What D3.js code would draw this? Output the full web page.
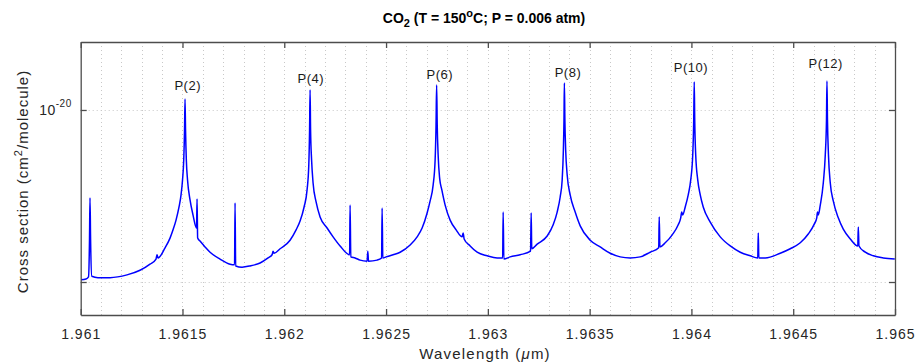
<!DOCTYPE html>
<html>
<head>
<meta charset="utf-8">
<script src="https://cdn.jsdelivr.net/npm/d3@7"></script>
<style>
  body { margin: 0; background: #fff; }
  svg { display: block; font-family: "Liberation Sans", Arial, sans-serif; }
</style>
</head>
<body>
<div id="chart"></div>
<script>
// wavelength (um) and absorption cross section (cm^2/molecule)
const wavelength = [
  1.9610015, 1.9610260, 1.9610383, 1.9610432, 1.9610457, 1.9610486, 1.9610545, 1.9610850,
  1.9611440, 1.9612275, 1.9612914, 1.9613405, 1.9613700, 1.9613749, 1.9613799, 1.9614143,
  1.9614388, 1.9614536, 1.9614683, 1.9614830, 1.9614929, 1.9615002, 1.9615061, 1.9615101,
  1.9615125, 1.9615150, 1.9615189, 1.9615248, 1.9615371, 1.9615518, 1.9615690, 1.9615715,
  1.9615745, 1.9615862, 1.9616108, 1.9616354, 1.9616845, 1.9617337, 1.9617558, 1.9617582,
  1.9617612, 1.9617926, 1.9618319, 1.9618811, 1.9619204, 1.9619401, 1.9619450, 1.9619499,
  1.9619794, 1.9620285, 1.9620580, 1.9620776, 1.9620973, 1.9621120, 1.9621204, 1.9621243,
  1.9621268, 1.9621292, 1.9621342, 1.9621415, 1.9621563, 1.9621759, 1.9622103, 1.9622398,
  1.9622742, 1.9623209, 1.9623233, 1.9623268, 1.9623479, 1.9623725, 1.9624069, 1.9624103,
  1.9624138, 1.9624560, 1.9624781, 1.9624806, 1.9624840, 1.9625002, 1.9625346, 1.9625690,
  1.9626182, 1.9626526, 1.9626771, 1.9627017, 1.9627165, 1.9627312, 1.9627410, 1.9627455,
  1.9627484, 1.9627513, 1.9627558, 1.9627631, 1.9627740, 1.9627902, 1.9628147, 1.9628442,
  1.9628737, 1.9628786, 1.9628835, 1.9629130, 1.9629474, 1.9629966, 1.9630457, 1.9630727,
  1.9630752, 1.9630786, 1.9631096, 1.9631587, 1.9632098, 1.9632128, 1.9632157, 1.9632423,
  1.9632914, 1.9633209, 1.9633405, 1.9633553, 1.9633651, 1.9633710, 1.9633740, 1.9633759,
  1.9633784, 1.9633823, 1.9633897, 1.9634044, 1.9634290, 1.9634536, 1.9635027, 1.9635518,
  1.9636010, 1.9636501, 1.9636993, 1.9637484, 1.9637975, 1.9638393, 1.9638418, 1.9638452,
  1.9638713, 1.9639057, 1.9639351, 1.9639474, 1.9639523, 1.9639572, 1.9639695, 1.9639843,
  1.9639966, 1.9640064, 1.9640113, 1.9640138, 1.9640162, 1.9640211, 1.9640310, 1.9640433,
  1.9640580, 1.9640924, 1.9641415, 1.9641907, 1.9642398, 1.9642889, 1.9643258, 1.9643283,
  1.9643312, 1.9643627, 1.9644364, 1.9644855, 1.9645346, 1.9645739, 1.9646034, 1.9646157,
  1.9646192, 1.9646231, 1.9646329, 1.9646477, 1.9646575, 1.9646634, 1.9646658, 1.9646683,
  1.9646732, 1.9646821, 1.9646968, 1.9647214, 1.9647459, 1.9647803, 1.9648172, 1.9648196,
  1.9648231, 1.9648541, 1.9648934, 1.9649425, 1.9649990
];
const crossSection = [
  1.03e-21, 1.04e-21, 1.07e-21, 1.75e-21, 3.08e-21, 1.75e-21, 1.08e-21, 1.06e-21,
  1.06e-21, 1.10e-21, 1.17e-21, 1.27e-21, 1.36e-21, 1.44e-21, 1.38e-21, 1.58e-21,
  1.80e-21, 2.01e-21, 2.29e-21, 2.73e-21, 3.21e-21, 3.92e-21, 5.12e-21, 7.65e-21,
  11.58e-21, 7.65e-21, 5.12e-21, 3.92e-21, 3.00e-21, 2.45e-21, 2.06e-21, 3.04e-21,
  1.80e-21, 1.73e-21, 1.60e-21, 1.49e-21, 1.36e-21, 1.27e-21, 1.26e-21, 2.88e-21,
  1.24e-21, 1.22e-21, 1.24e-21, 1.29e-21, 1.38e-21, 1.44e-21, 1.51e-21, 1.47e-21,
  1.56e-21, 1.75e-21, 2.01e-21, 2.26e-21, 2.73e-21, 3.43e-21, 4.79e-21, 7.65e-21,
  13.07e-21, 7.65e-21, 5.12e-21, 3.76e-21, 2.92e-21, 2.39e-21, 2.06e-21, 1.83e-21,
  1.62e-21, 1.44e-21, 2.80e-21, 1.40e-21, 1.38e-21, 1.34e-21, 1.32e-21, 1.51e-21,
  1.32e-21, 1.34e-21, 1.38e-21, 2.69e-21, 1.38e-21, 1.40e-21, 1.44e-21, 1.49e-21,
  1.64e-21, 1.83e-21, 2.06e-21, 2.52e-21, 2.96e-21, 3.66e-21, 5.12e-21, 8.18e-21,
  13.97e-21, 8.18e-21, 5.47e-21, 4.02e-21, 3.43e-21, 2.80e-21, 2.29e-21, 2.01e-21,
  1.83e-21, 1.93e-21, 1.78e-21, 1.62e-21, 1.49e-21, 1.42e-21, 1.38e-21, 1.38e-21,
  2.55e-21, 1.36e-21, 1.40e-21, 1.44e-21, 1.51e-21, 2.52e-21, 1.56e-21, 1.66e-21,
  1.85e-21, 2.15e-21, 2.55e-21, 3.12e-21, 3.92e-21, 5.85e-21, 8.75e-21, 14.35e-21,
  8.75e-21, 5.85e-21, 4.19e-21, 3.21e-21, 2.55e-21, 2.12e-21, 1.75e-21, 1.60e-21,
  1.47e-21, 1.40e-21, 1.38e-21, 1.40e-21, 1.49e-21, 1.58e-21, 2.39e-21, 1.60e-21,
  1.69e-21, 1.88e-21, 2.15e-21, 2.36e-21, 2.55e-21, 2.45e-21, 2.73e-21, 3.21e-21,
  3.92e-21, 5.47e-21, 8.75e-21, 14.55e-21, 8.75e-21, 5.47e-21, 3.92e-21, 3.21e-21,
  2.73e-21, 2.23e-21, 1.83e-21, 1.62e-21, 1.49e-21, 1.42e-21, 1.38e-21, 1.93e-21,
  1.38e-21, 1.38e-21, 1.47e-21, 1.56e-21, 1.69e-21, 1.90e-21, 2.17e-21, 2.36e-21,
  2.55e-21, 2.45e-21, 2.80e-21, 3.76e-21, 5.47e-21, 8.75e-21, 14.74e-21, 8.75e-21,
  5.47e-21, 3.76e-21, 2.96e-21, 2.36e-21, 2.03e-21, 1.78e-21, 1.62e-21, 2.09e-21,
  1.62e-21, 1.49e-21, 1.42e-21, 1.38e-21, 1.36e-21
];

// line annotations
const peakLabels = ['P(2)', 'P(4)', 'P(6)', 'P(8)', 'P(10)', 'P(12)'];
const peakLabelX = [1.9615258, 1.9621302, 1.9627641, 1.9633936, 1.9639975, 1.9646599];
const peakLabelY = [13.9e-21, 15.14e-21, 16.09e-21, 16.52e-21, 17.55e-21, 18.68e-21];

// axes
const xDomain = [1.961, 1.965];
const yDomain = [6.43e-22, 2.484e-20];
const xTicks = [1.961, 1.9615, 1.962, 1.9625, 1.963, 1.9635, 1.964, 1.9645, 1.965];
const xTickLabels = ['1.961', '1.9615', '1.962', '1.9625', '1.963', '1.9635', '1.964', '1.9645', '1.965'];
const yTicks = [1e-21, 1e-20];
const yTickLabels = ['', '-20'];

const width = 919, height = 364;
const margin = { top: 42, right: 24, bottom: 49, left: 80.7 };
const axisColor = '#4d4d4d';
const textColor = '#262626';

const svg = d3.select('#chart').append('svg')
  .attr('width', width)
  .attr('height', height);

const x = d3.scaleLinear().domain(xDomain).range([margin.left, width - margin.right]);
const y = d3.scaleLog().domain(yDomain).range([height - margin.bottom, margin.top]);

// dotted grid
const grid = svg.append('g')
  .attr('stroke', '#c8c8c8')
  .attr('stroke-width', 1)
  .attr('stroke-dasharray', '1,3');

grid.selectAll('line.vx')
  .data(x.ticks(40).filter(d => d > xDomain[0] + 1e-9 && d < xDomain[1] - 1e-9))
  .join('line')
  .attr('class', 'vx')
  .attr('x1', d => Math.round(x(d)) + 0.5)
  .attr('x2', d => Math.round(x(d)) + 0.5)
  .attr('y1', y.range()[1])
  .attr('y2', y.range()[0]);

grid.selectAll('line.hy')
  .data(yTicks)
  .join('line')
  .attr('class', 'hy')
  .attr('x1', x.range()[0])
  .attr('x2', x.range()[1])
  .attr('y1', d => Math.round(y(d)) + 0.5)
  .attr('y2', d => Math.round(y(d)) + 0.5);

// spectrum
svg.append('clipPath').attr('id', 'clip')
  .append('rect')
  .attr('x', x.range()[0]).attr('y', y.range()[1])
  .attr('width', x.range()[1] - x.range()[0])
  .attr('height', y.range()[0] - y.range()[1]);

const line = d3.line()
  .x(d => x(d[0]))
  .y(d => y(d[1]))
  .curve(d3.curveMonotoneX);

svg.append('path')
  .datum(wavelength.map((w, i) => [w, crossSection[i]]))
  .attr('clip-path', 'url(#clip)')
  .attr('fill', 'none')
  .attr('stroke', '#0000ff')
  .attr('stroke-width', 1.5)
  .attr('stroke-linejoin', 'round')
  .attr('d', line);

// axes (box with inward ticks)
const xBottom = d3.axisBottom(x).tickValues(xTicks).tickSizeInner(-6).tickSizeOuter(0)
  .tickPadding(14).tickFormat((d, i) => xTickLabels[i]);
const xTop = d3.axisTop(x).tickValues(xTicks).tickSizeInner(-6).tickSizeOuter(0).tickFormat('');
const yLeft = d3.axisLeft(y).tickValues(yTicks).tickSizeInner(-6).tickSizeOuter(0).tickFormat('');
const yRight = d3.axisRight(y).tickValues(yTicks).tickSizeInner(-6).tickSizeOuter(0).tickFormat('');

function styleAxis(g) {
  g.select('.domain').attr('stroke', axisColor).attr('stroke-width', 1.3);
  g.selectAll('.tick line').attr('stroke', axisColor).attr('stroke-width', 1.3);
  g.selectAll('.tick text').attr('fill', textColor).attr('font-size', 14)
    .attr('letter-spacing', 1).attr('font-family', '"Liberation Sans", Arial, sans-serif');
}

svg.append('g').attr('transform', `translate(0,${y.range()[0]})`).call(xBottom).call(styleAxis);
svg.append('g').attr('transform', `translate(0,${y.range()[1]})`).call(xTop).call(styleAxis);
svg.append('g').attr('transform', `translate(${x.range()[0]},0)`).call(yLeft).call(styleAxis);
svg.append('g').attr('transform', `translate(${x.range()[1]},0)`).call(yRight).call(styleAxis);

// y tick labels as 10^n
const yLab = svg.append('g').attr('fill', textColor);
yTicks.forEach((t, i) => {
  if (!yTickLabels[i]) return;
  const tx = yLab.append('text')
    .attr('x', x.range()[0] - 9)
    .attr('y', y(t) + 5)
    .attr('text-anchor', 'end')
    .attr('font-size', 14)
    .attr('letter-spacing', 0.5);
  tx.append('tspan').text('10');
  tx.append('tspan').attr('dy', -8).attr('font-size', 10).text(yTickLabels[i]);
});

// peak labels
svg.append('g').selectAll('text')
  .data(peakLabels)
  .join('text')
  .attr('x', (d, i) => x(peakLabelX[i]))
  .attr('y', (d, i) => y(peakLabelY[i]))
  .attr('text-anchor', 'middle')
  .attr('dominant-baseline', 'central')
  .attr('font-size', 13)
  .attr('letter-spacing', 0.5)
  .attr('fill', '#1a1a1a')
  .text(d => d);

// title
const title = svg.append('text')
  .attr('x', 484)
  .attr('y', 23)
  .attr('text-anchor', 'middle')
  .attr('font-size', 14)
  .attr('font-weight', 'bold')
  .attr('fill', '#000');
title.append('tspan').text('CO');
title.append('tspan').attr('dy', 4).attr('font-size', 11).text('2');
title.append('tspan').attr('dy', -4).text(' (T = 150');
title.append('tspan').attr('dy', -6).attr('font-size', 11).text('o');
title.append('tspan').attr('dy', 6).text('C; P = 0.006 atm)');

// axis labels
svg.append('text')
  .attr('x', 485)
  .attr('y', 359)
  .attr('text-anchor', 'middle')
  .attr('font-size', 15)
  .attr('letter-spacing', 1.2)
  .attr('fill', textColor)
  .html('Wavelength (<tspan font-style="italic">μ</tspan>m)');

const yTitle = svg.append('text')
  .attr('transform', `translate(28,${(y.range()[0] + y.range()[1]) / 2 + 3}) rotate(-90)`)
  .attr('text-anchor', 'middle')
  .attr('font-size', 15)
  .attr('letter-spacing', 1)
  .attr('fill', textColor);
yTitle.append('tspan').text('Cross section (cm');
yTitle.append('tspan').attr('dy', -6).attr('font-size', 11).text('2');
yTitle.append('tspan').attr('dy', 6).text('/molecule)');
</script>
</body>
</html>
